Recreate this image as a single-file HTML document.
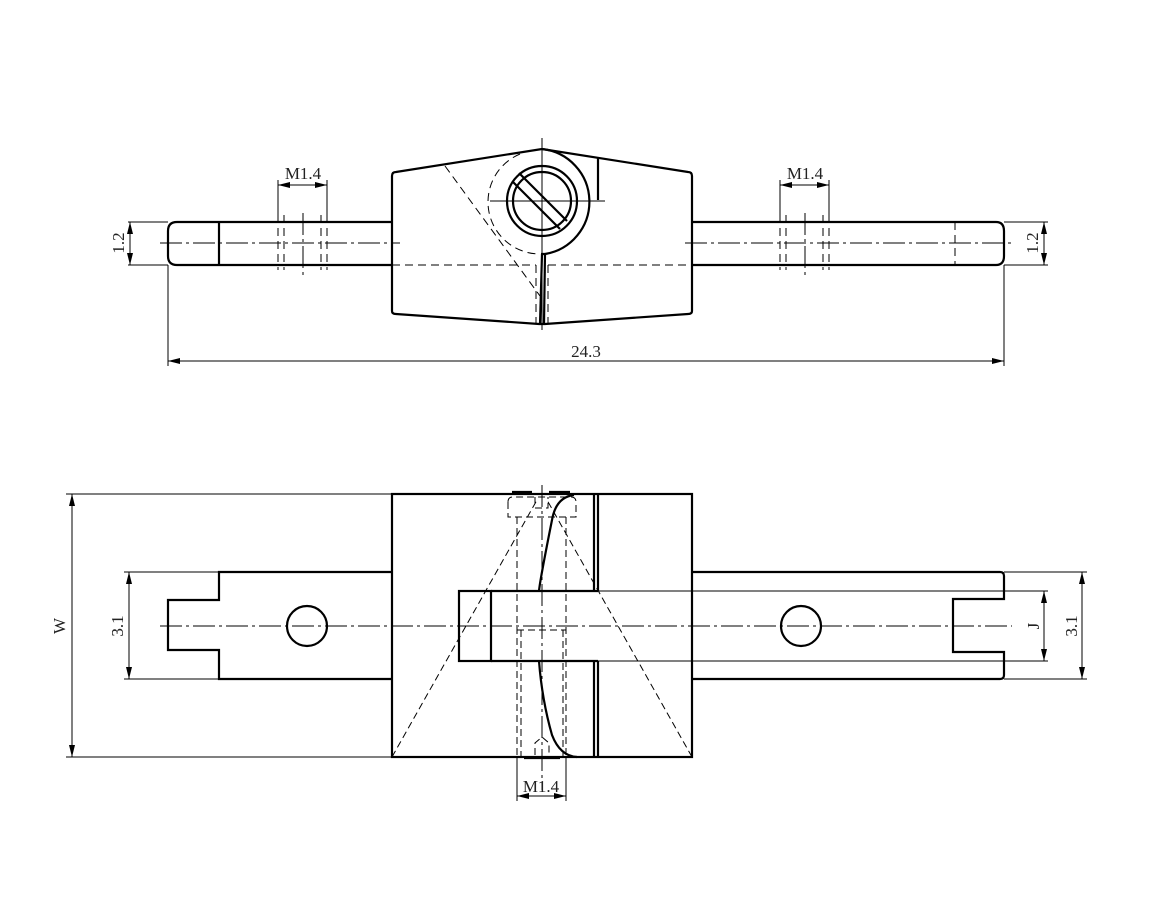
<!DOCTYPE html>
<html><head><style>
html,body{margin:0;padding:0;background:#fff;}
svg{display:block;}
text{font-family:"Liberation Sans Narrow","Liberation Serif",serif;font-size:17px;fill:#222;}
</style></head><body>
<svg width="1151" height="921" viewBox="0 0 1151 921" xmlns="http://www.w3.org/2000/svg">
<defs>
<marker id="a" viewBox="0 0 12 6" refX="12" refY="3" markerWidth="12" markerHeight="6" orient="auto-start-reverse" markerUnits="userSpaceOnUse"><path d="M0,0 L12,3 L0,6 z" fill="#000"/></marker>
</defs>
<g fill="none" stroke="#000">
<!-- ===== TOP VIEW ===== -->
<g stroke-width="2.2">
<path d="M392,222 H177 Q168,222 168,231 V256 Q168,265 177,265 H392"/>
<path d="M692,222 H996 Q1004,222 1004,231 V256 Q1004,265 996,265 H692"/>
<line x1="219" y1="222" x2="219" y2="265"/>
<path d="M392,176 Q392,172 396,172 L542,149 L688,172 Q692,172 692,176 V311 Q692,314 688,314 L545,324 L539,324 L396,314 Q392,314 392,311 Z"/>
<circle cx="542" cy="201" r="35"/>
<circle cx="542" cy="201" r="29"/>
<line x1="519" y1="173" x2="567" y2="221"/>
<line x1="513" y1="182" x2="560" y2="229"/>
<path d="M542,149 A53,53 0 0 1 545,254 L541,254"/>
<line x1="598" y1="158" x2="598" y2="200"/>
<line x1="542" y1="254" x2="540" y2="324"/>
<line x1="545" y1="254" x2="544" y2="324"/>
</g>
<g stroke-width="1" stroke-dasharray="8,5">
<path d="M520,154 A52,52 0 0 0 540,254"/>
<line x1="392" y1="265" x2="536" y2="265"/>
<line x1="548" y1="265" x2="692" y2="265"/>
<line x1="536" y1="265" x2="536" y2="324"/>
<line x1="548" y1="265" x2="548" y2="324"/>
<line x1="445" y1="166" x2="540" y2="296"/>
<line x1="278" y1="215" x2="278" y2="270"/><line x1="284" y1="215" x2="284" y2="270"/>
<line x1="321" y1="215" x2="321" y2="270"/><line x1="327" y1="215" x2="327" y2="270"/>
<line x1="780" y1="215" x2="780" y2="270"/><line x1="786" y1="215" x2="786" y2="270"/>
<line x1="823" y1="215" x2="823" y2="270"/><line x1="829" y1="215" x2="829" y2="270"/>
<line x1="955" y1="222" x2="955" y2="265"/>
</g>
<g stroke-width="1" stroke-dasharray="22,4,3,4">
<line x1="160" y1="243" x2="400" y2="243"/>
<line x1="685" y1="243" x2="1012" y2="243"/>
<line x1="303" y1="213" x2="303" y2="275"/>
<line x1="805" y1="213" x2="805" y2="275"/>
</g>
<line x1="542" y1="138" x2="542" y2="330" stroke-width="1"/>
<line x1="490" y1="201" x2="605" y2="201" stroke-width="1"/>
<!-- top dims -->
<g stroke-width="1">
<line x1="278" y1="180" x2="278" y2="222"/><line x1="327" y1="180" x2="327" y2="222"/>
<line x1="278" y1="185" x2="327" y2="185" marker-start="url(#a)" marker-end="url(#a)"/>
<line x1="780" y1="180" x2="780" y2="222"/><line x1="829" y1="180" x2="829" y2="222"/>
<line x1="780" y1="185" x2="829" y2="185" marker-start="url(#a)" marker-end="url(#a)"/>
<line x1="128" y1="222" x2="168" y2="222"/><line x1="128" y1="265" x2="168" y2="265"/>
<line x1="130" y1="222" x2="130" y2="265" marker-start="url(#a)" marker-end="url(#a)"/>
<line x1="1004" y1="222" x2="1048" y2="222"/><line x1="1004" y1="265" x2="1048" y2="265"/>
<line x1="1044" y1="222" x2="1044" y2="265" marker-start="url(#a)" marker-end="url(#a)"/>
<line x1="168" y1="265" x2="168" y2="366"/><line x1="1004" y1="265" x2="1004" y2="366"/>
<line x1="168" y1="361" x2="1004" y2="361" marker-start="url(#a)" marker-end="url(#a)"/>
</g>
<!-- ===== BOTTOM VIEW ===== -->
<g stroke-width="2.2">
<rect x="392" y="494" width="300" height="263"/>
<path d="M392,572 H219 V600 H168 V650 H219 V679 H392"/>
<path d="M692,572 H1000 Q1004,572 1004,576 V599 H953 V652 H1004 V675 Q1004,679 1000,679 H692"/>
<circle cx="307" cy="626" r="20"/>
<circle cx="801" cy="626" r="20"/>
<rect x="459" y="591" width="32" height="70"/>
<line x1="491" y1="591" x2="598" y2="591"/>
<line x1="491" y1="661" x2="598" y2="661"/>
<line x1="594" y1="494" x2="594" y2="591"/><line x1="598" y1="494" x2="598" y2="591"/>
<line x1="594" y1="661" x2="594" y2="757"/><line x1="598" y1="661" x2="598" y2="757"/>
<path d="M574,495 Q556,497 552,520 Q540,580 539,591"/>
<path d="M539,661 Q542,700 552,735 Q560,756 577,757"/>
<line x1="512" y1="492" x2="532" y2="492"/><line x1="549" y1="492" x2="570" y2="492"/>
<line x1="524" y1="758" x2="560" y2="758"/>
</g>
<g stroke-width="1">
<line x1="598" y1="591" x2="1048" y2="591"/>
<line x1="598" y1="661" x2="1048" y2="661"/>
</g>
<g stroke-width="1" stroke-dasharray="7,4">
<path d="M508,502 V517 H576 V502 Q576,497 571,497 H513 Q508,497 508,502"/>
<path d="M535,497 V508 H548 V497"/>
<line x1="517" y1="517" x2="517" y2="757"/>
<line x1="566" y1="517" x2="566" y2="757"/>
<line x1="521" y1="630" x2="521" y2="757"/>
<line x1="563" y1="630" x2="563" y2="757"/>
<line x1="517" y1="630" x2="566" y2="630"/>
<path d="M535,755 V743 L542,737 L549,743 V755"/>
<line x1="392" y1="757" x2="537" y2="500"/>
<line x1="692" y1="757" x2="547" y2="500"/>
</g>
<g stroke-width="1" stroke-dasharray="22,4,3,4">
<line x1="160" y1="626" x2="1012" y2="626"/>
<line x1="542" y1="485" x2="542" y2="790"/>
</g>
<!-- bottom dims -->
<g stroke-width="1">
<line x1="66" y1="494" x2="392" y2="494"/><line x1="66" y1="757" x2="392" y2="757"/>
<line x1="72" y1="494" x2="72" y2="757" marker-start="url(#a)" marker-end="url(#a)"/>
<line x1="124" y1="572" x2="219" y2="572"/><line x1="124" y1="679" x2="219" y2="679"/>
<line x1="129" y1="572" x2="129" y2="679" marker-start="url(#a)" marker-end="url(#a)"/>
<line x1="1004" y1="572" x2="1087" y2="572"/><line x1="1004" y1="679" x2="1087" y2="679"/>
<line x1="1082" y1="572" x2="1082" y2="679" marker-start="url(#a)" marker-end="url(#a)"/>
<line x1="1044" y1="591" x2="1044" y2="661" marker-start="url(#a)" marker-end="url(#a)"/>
<line x1="517" y1="757" x2="517" y2="801"/><line x1="566" y1="757" x2="566" y2="801"/>
<line x1="517" y1="796" x2="566" y2="796" marker-start="url(#a)" marker-end="url(#a)"/>
</g>
</g>
<g>
<text x="303" y="179" text-anchor="middle">M1.4</text>
<text x="805" y="179" text-anchor="middle">M1.4</text>
<text x="586" y="357" text-anchor="middle">24.3</text>
<text x="541" y="792" text-anchor="middle">M1.4</text>
<text transform="translate(124,243) rotate(-90)" text-anchor="middle">1.2</text>
<text transform="translate(1038,243) rotate(-90)" text-anchor="middle">1.2</text>
<text transform="translate(65,626) rotate(-90)" text-anchor="middle">W</text>
<text transform="translate(123,626) rotate(-90)" text-anchor="middle">3.1</text>
<text transform="translate(1077,626) rotate(-90)" text-anchor="middle">3.1</text>
<text transform="translate(1039,626) rotate(-90)" text-anchor="middle">J</text>
</g>
</svg>
</body></html>
